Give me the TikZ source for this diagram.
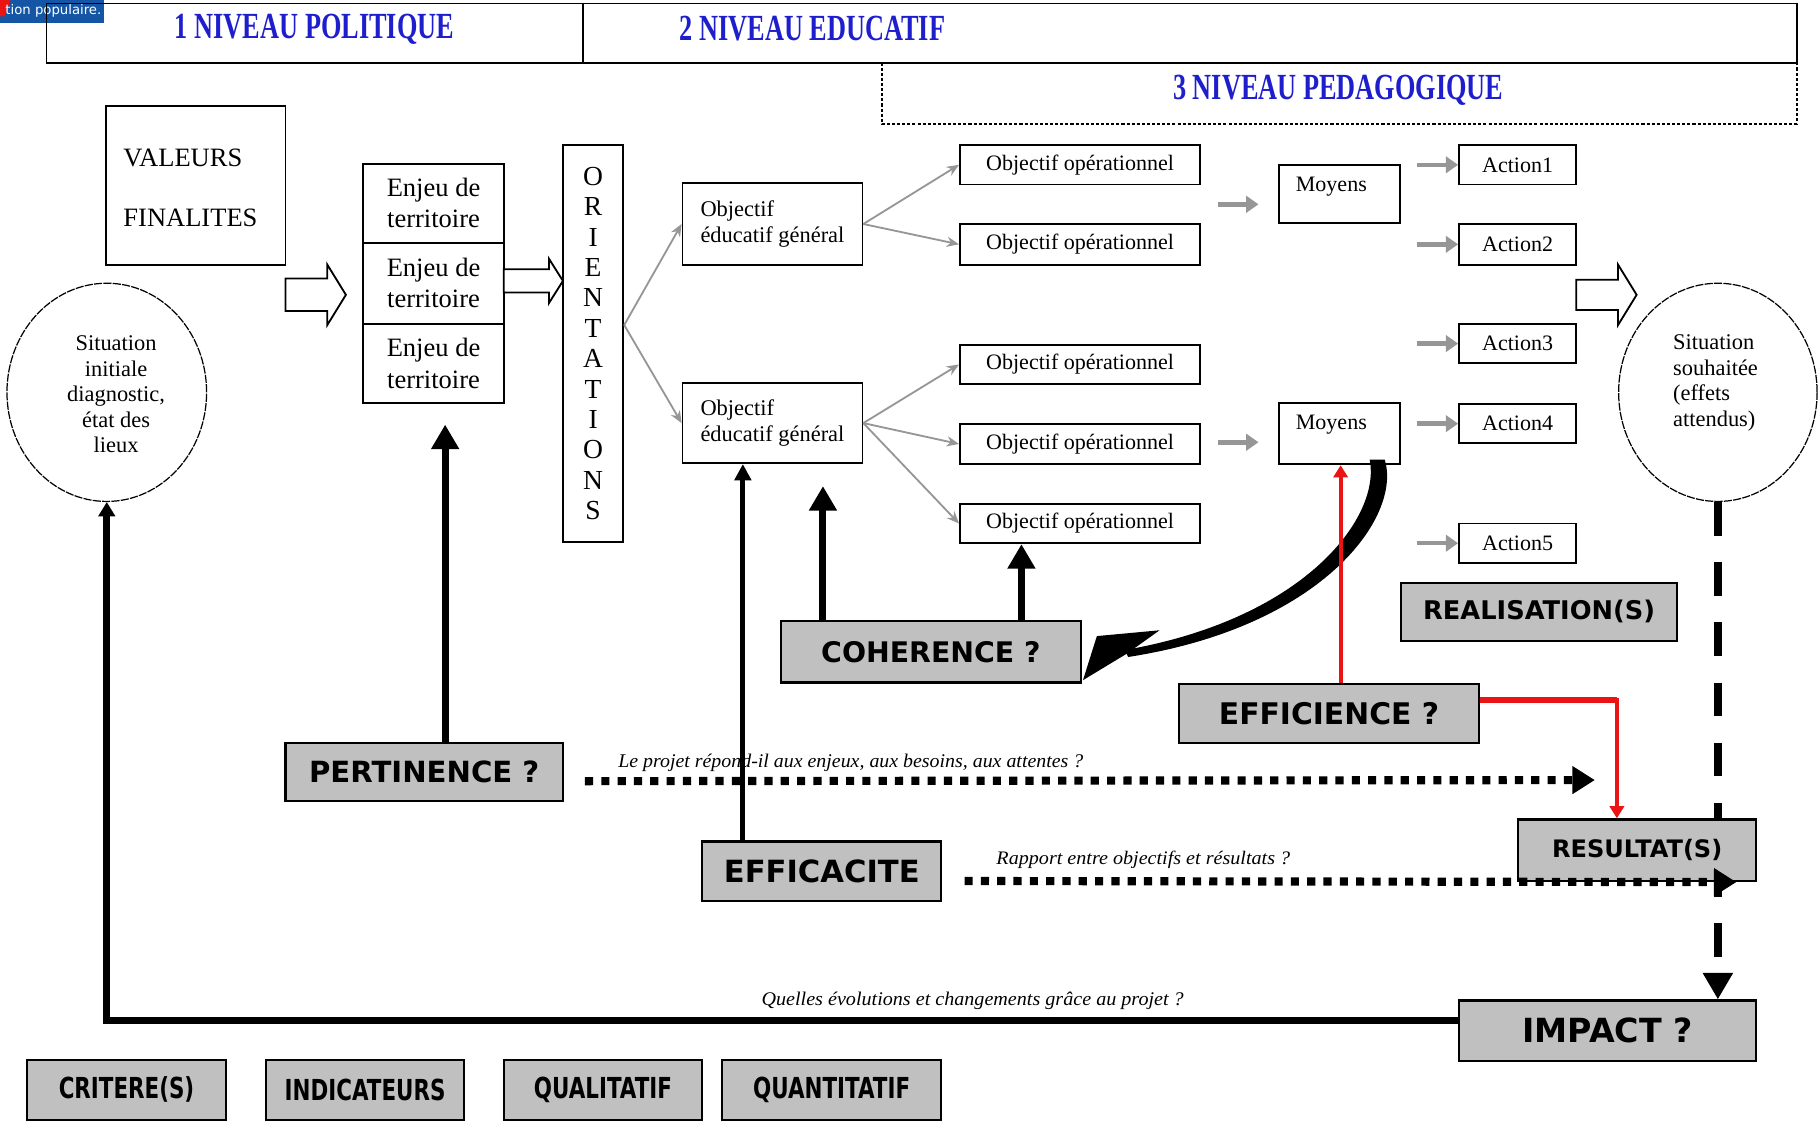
\documentclass[tikz,border=0pt]{standalone}
\usepackage{fontspec}
\setmainfont{Liberation Serif}
\newfontfamily\boxfont{DejaVu Sans}
\usetikzlibrary{positioning,calc,shapes.geometric,arrows.meta}

\definecolor{lvlblue}{RGB}{30,30,205}
\definecolor{boxgray}{RGB}{192,192,192}
\definecolor{arrowgray}{RGB}{150,150,150}
\definecolor{logoblue}{RGB}{20,85,165}
\definecolor{effred}{RGB}{235,20,20}

\newcommand{\hollowarrow}[6]{%
    \draw[line width=0.9pt, fill=white] (#1,#3-#4) -- (#2-#6,#3-#4) -- (#2-#6,#3-#5)
        -- (#2,#3) -- (#2-#6,#3+#5) -- (#2-#6,#3+#4) -- (#1,#3+#4) -- cycle;}

\tikzset{
    wh/.style 2 args={minimum width=#1*0.02cm, minimum height=#2*0.02cm},
    plainbox/.style={draw, line width=0.9pt, inner sep=0pt},
    graybox/.style={draw, fill=boxgray, line width=1.1pt, inner sep=0pt},
    lvltext/.style={text=lvlblue, font=\fontsize{12.9}{14}\selectfont\bfseries},
    ootext/.style={font=\fontsize{10.8}{13}\selectfont},
    situation/.style={ellipse, draw, line width=0.6pt, dash pattern=on 4pt off 0.6pt, inner sep=0pt,
        font=\fontsize{11}{12.5}\selectfont},
    grayarrow/.style={draw=arrowgray, line width=0.9pt, -{Stealth[length=6pt, width=5pt]}},
    shortarrow/.style={draw=arrowgray, line width=2.6pt, -{Triangle[length=6pt, width=8pt]}},
    bigarrow/.style={line width=3.4pt, -{Triangle[width=13pt, length=12pt]}},
    redarrow/.style={draw=effred, line width=2pt, -{Triangle[width=7pt, length=6pt]}},
    dotarrow/.style={line width=4pt, dash pattern=on 4pt off 4pt, -{Triangle[width=13pt, length=11pt]}},
    bigdash/.style={line width=4pt, dash pattern=on 16.5pt off 13pt, -{Triangle[width=14pt, length=13pt]}},
    question/.style={inner sep=0pt, font=\itshape}
}

\begin{document}
\begin{tikzpicture}[x=0.02cm, y=-0.02cm]

    \useasboundingbox (0,0) rectangle (1568,971);

    % logo
    \fill[logoblue] (0,0) rectangle (90,20);
    \fill[effred] (0,0) -- (9,0) -- (4,14) -- (0,14) -- cycle;
    \node[text=white, inner sep=0pt] (logo) at (46,9) {\resizebox{47pt}{!}{\boxfont tion populaire.}};

    % the three levels
    \node[plainbox, wh={1508}{51}] (lvl) at (794,28.5) {};
    \draw[line width=0.9pt] (502,3) -- (502,54);
    \node[lvltext] (lvl1) at (271,25) {\scalebox{1}[1.4]{1 NIVEAU POLITIQUE}};
    \node[lvltext] (lvl2) at (700,25) {\scalebox{1}[1.4]{2 NIVEAU EDUCATIF}};
    \draw[line width=0.8pt, dash pattern=on 1.5pt off 1pt] (760,54) -- (760,107) -- (1548,107) -- (1548,54);
    \node[lvltext] (lvl3) at (1153,78) {\scalebox{1}[1.4]{3 NIVEAU PEDAGOGIQUE}};

    % valeurs and starting situation
    \node[plainbox, wh={155}{137}] (val) at (168.5,159.5) {};
    \node[anchor=west, inner sep=0pt, font=\fontsize{13}{15}\selectfont] (valA) at (106,136) {VALEURS};
    \node[anchor=west, inner sep=0pt, font=\fontsize{13}{15}\selectfont] (valB) at (106,188) {FINALITES};
    \node[situation, wh={172}{188}] (sit1) at (92,338) {};
    \node[align=center, inner sep=0pt, font=\fontsize{11}{12.5}\selectfont] (sit1t) at (100,340)
        {Situation\\initiale\\diagnostic,\\état des\\lieux};

    % enjeux
    \node[plainbox, wh={121}{68}, align=center, font=\fontsize{13}{15.4}\selectfont] (enj1) at (373.5,175) {Enjeu de\\territoire};
    \node[plainbox, wh={121}{70}, align=center, font=\fontsize{13}{15.4}\selectfont] (enj2) at (373.5,244) {Enjeu de\\territoire};
    \node[plainbox, wh={121}{68}, align=center, font=\fontsize{13}{15.4}\selectfont] (enj3) at (373.5,313) {Enjeu de\\territoire};
    \hollowarrow{246}{298}{254}{14}{26}{16}
    \hollowarrow{434}{485}{242}{10}{19}{12}

    % orientations
    \node[plainbox, wh={52}{342}, align=center, font=\fontsize{13.5}{14.9}\selectfont] (ori) at (511,296)
        {O\\R\\I\\E\\N\\T\\A\\T\\I\\O\\N\\S};

    % objectifs
    \node[plainbox, wh={155}{70}, align=left, font=\fontsize{11}{13}\selectfont] (og1) at (665.5,193) {Objectif\\éducatif général};
    \node[plainbox, wh={155}{69}, align=left, font=\fontsize{11}{13}\selectfont] (og2) at (665.5,364.5) {Objectif\\éducatif général};
    \node[plainbox, wh={207}{34}, ootext] (oo1) at (930.5,142) {Objectif opérationnel};
    \node[plainbox, wh={207}{35}, ootext] (oo2) at (930.5,210.5) {Objectif opérationnel};
    \node[plainbox, wh={207}{34}, ootext] (oo3) at (930.5,314) {Objectif opérationnel};
    \node[plainbox, wh={207}{35}, ootext] (oo4) at (930.5,382.5) {Objectif opérationnel};
    \node[plainbox, wh={207}{34}, ootext] (oo5) at (930.5,451) {Objectif opérationnel};
    \coordinate (orip) at ($(ori.east)+(0,-16)$);
    \draw[grayarrow] (orip) -- (og1.west);
    \draw[grayarrow] (orip) -- (og2.west);
    \draw[grayarrow] (og1.east) -- (oo1.west);
    \draw[grayarrow] (og1.east) -- (oo2.west);
    \draw[grayarrow] (og2.east) -- (oo3.west);
    \draw[grayarrow] (og2.east) -- (oo4.west);
    \draw[grayarrow] (og2.east) -- (oo5.west);

    % moyens and actions
    \node[plainbox, wh={104}{50}] (moy1) at (1154,167) {};
    \node[ootext, inner sep=0pt] (moy1t) at (1147,161) {Moyens};
    \node[plainbox, wh={104}{53}] (moy2) at (1154,373.5) {};
    \node[ootext, inner sep=0pt] (moy2t) at (1147,366) {Moyens};
    \draw[shortarrow] ($(moy1.west)+(-52,9)$) -- ($(moy1.west)+(-17,9)$);
    \draw[shortarrow] ($(moy2.west)+(-52,7.5)$) -- ($(moy2.west)+(-17,7.5)$);

    \node[plainbox, wh={101}{34}, ootext] (act1) at (1307.5,142) {Action1};
    \node[plainbox, wh={101}{35}, ootext] (act2) at (1307.5,210.5) {Action2};
    \node[plainbox, wh={101}{34}, ootext] (act3) at (1307.5,296) {Action3};
    \node[plainbox, wh={101}{34}, ootext] (act4) at (1307.5,365) {Action4};
    \node[plainbox, wh={101}{34}, ootext] (act5) at (1307.5,468) {Action5};
    \draw[shortarrow, line width=2.2pt] ($(act1.west)+(-35,0)$) -- (act1.west);
    \draw[shortarrow, line width=2.2pt] ($(act2.west)+(-35,0)$) -- (act2.west);
    \draw[shortarrow, line width=2.2pt] ($(act3.west)+(-35,0)$) -- (act3.west);
    \draw[shortarrow, line width=2.2pt] ($(act4.west)+(-35,0)$) -- (act4.west);
    \draw[shortarrow, line width=2.2pt] ($(act5.west)+(-35,0)$) -- (act5.west);
    \hollowarrow{1358}{1410}{254}{13}{26}{16}

    % wished situation
    \node[situation, wh={171}{188}] (sit2) at (1480,338) {};
    \node[align=left, inner sep=0pt, font=\fontsize{11}{12.5}\selectfont] (sit2t) at (1478,330)
        {Situation\\souhaitée\\(effets\\attendus)};

    % evaluation boxes
    \node[graybox, wh={238}{50}, font=\fontsize{12.6}{14}\selectfont\boxfont\bfseries] (real) at (1326,527) {REALISATION(S)};
    \node[graybox, wh={258}{53}, font=\fontsize{13.9}{15}\selectfont\boxfont\bfseries] (coh) at (802,561.5) {COHERENCE ?};
    \node[graybox, wh={258}{51}, font=\fontsize{14.6}{15}\selectfont\boxfont\bfseries] (effi) at (1145,614.5) {EFFICIENCE ?};
    \node[graybox, wh={239}{50}, font=\fontsize{14.3}{15}\selectfont\boxfont\bfseries] (pert) at (365.5,665) {PERTINENCE ?};
    \node[graybox, wh={206}{51}, font=\fontsize{15}{15}\selectfont\boxfont\bfseries] (effa) at (708,750.5) {EFFICACITE};
    \node[graybox, wh={256}{52}, font=\fontsize{16.3}{17}\selectfont\boxfont\bfseries] (imp) at (1385,888) {IMPACT ?};

    % dashed line from the wished situation to impact
    \draw[bigdash] (sit2.south) -- (sit2.south |- imp.north);
    \node[graybox, wh={205}{53}, font=\fontsize{11.8}{13}\selectfont\boxfont\bfseries] (res) at (1410.5,732.5) {RESULTAT(S)};

    % questions
    \node[question] (qpert) at (733,657) {\resizebox{228pt}{6.6pt}{Le projet répond-il aux enjeux, aux besoins, aux attentes ?}};
    \node[question] (qeffa) at (985,741) {\resizebox{144pt}{6.6pt}{Rapport entre objectifs et résultats ?}};
    \node[question] (qimp) at (838,862) {\resizebox{207pt}{6.6pt}{Quelles évolutions et changements grâce au projet ?}};

    % pertinence
    \coordinate (pa) at ($(pert.north)+(18,0)$);
    \draw[bigarrow, shorten >=0.36cm] (pa) -- (pa |- enj3.south);
    \draw[dotarrow] ($(pert.east)+(18,8)$) -- ($(res.north west)+(67,-33)$);

    % efficacite
    \coordinate (ea) at ($(effa.north)+(-68,0)$);
    \draw[line width=2.4pt, -{Triangle[width=8pt, length=8pt]}] (ea) -- (ea |- og2.south);
    \draw[dotarrow] ($(effa.east)+(19,8.5)$) -- ($(res.south east)+(-18,0)$);

    % coherence
    \coordinate (ca) at ($(coh.north)+(-93,0)$);
    \coordinate (cb) at ($(coh.north)+(78,0)$);
    \draw[bigarrow, shorten >=0.38cm] (ca) -- (ca |- og2.south);
    \draw[bigarrow] (cb) -- (cb |- oo5.south);
    \fill (1193,396) .. controls (1208,445) and (1140,540) .. (972,566)
        -- (969,560) .. controls (1125,533) and (1190,445) .. (1180,396) -- cycle;
    \fill (933,586) -- (945,548) -- (999,543) -- (971,563) -- cycle;

    % efficience
    \coordinate (ra) at ($(effi.north)+(10,0)$);
    \draw[redarrow] (ra) -- (ra |- moy2.south);
    \coordinate (rb) at ($(effi.east)+(0,-11.5)$);
    \coordinate (rc) at ($(res.north)+(-17.5,0)$);
    \draw[effred, line width=3.2pt] (rb) -- (rb -| rc);
    \draw[redarrow] ($(rb -| rc)+(0,-1.5)$) -- (rc);

    % impact back to the starting situation
    \coordinate (ia) at ($(imp.west)+(0,-9)$);
    \draw[line width=3.6pt, -{Triangle[width=8pt, length=7pt]}] (ia) -- (ia -| sit1.south) -- (sit1.south);

    % criteria
    \node[graybox, wh={172}{52}, font=\fontsize{10.5}{12}\selectfont\boxfont\bfseries] (crit) at (109,939) {\scalebox{1}[1.35]{CRITERE(S)}};
    \node[graybox, wh={171}{52}, font=\fontsize{10.5}{12}\selectfont\boxfont\bfseries] (ind) at (314.5,939) {\scalebox{1}[1.35]{INDICATEURS}};
    \node[graybox, wh={171}{52}, font=\fontsize{10.5}{12}\selectfont\boxfont\bfseries] (qual) at (519.5,939) {\scalebox{1}[1.35]{QUALITATIF}};
    \node[graybox, wh={189}{52}, font=\fontsize{10.5}{12}\selectfont\boxfont\bfseries] (quan) at (716.5,939) {\scalebox{1}[1.35]{QUANTITATIF}};

\end{tikzpicture}
\end{document}
